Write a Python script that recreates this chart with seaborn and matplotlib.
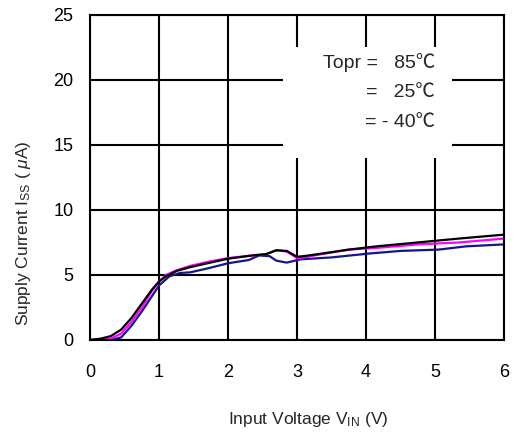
import numpy as np
import pandas as pd
import matplotlib
matplotlib.use("Agg")
import matplotlib.pyplot as plt
from matplotlib.patches import Rectangle
import seaborn as sns

# --- data ---
x_85 = [0, 0.15, 0.3, 0.45, 0.6, 0.75, 0.9, 1.0, 1.1, 1.25, 1.45, 1.7, 2.0, 2.35,
        2.55, 2.7, 2.85, 3.0, 3.1, 3.3, 3.75, 4.15, 4.75, 5.35, 6.0]
y_85 = [0, 0.1, 0.3, 0.8, 1.7, 2.8, 3.9, 4.5, 4.9, 5.3, 5.6, 5.9, 6.25, 6.5,
        6.6, 6.9, 6.85, 6.4, 6.45, 6.6, 6.95, 7.2, 7.5, 7.8, 8.1]

x_25 = [0, 0.3, 0.45, 0.6, 0.75, 0.9, 1.0, 1.1, 1.25, 1.45, 1.7, 2.0, 2.35,
        2.55, 2.7, 2.85, 3.0, 3.1, 3.3, 3.75, 4.2, 4.75, 5.35, 6.0]
y_25 = [0, 0.1, 0.5, 1.4, 2.5, 3.8, 4.5, 5.0, 5.35, 5.7, 6.0, 6.3, 6.5,
        6.6, 6.9, 6.8, 6.3, 6.35, 6.55, 6.95, 7.1, 7.35, 7.5, 7.8]

x_m40 = [0, 0.3, 0.45, 0.6, 0.75, 0.9, 1.0, 1.15, 1.3, 1.45, 1.7, 2.0, 2.3,
         2.45, 2.6, 2.7, 2.85, 3.05, 3.5, 4.05, 4.5, 5.05, 5.45, 6.0]
y_m40 = [0, 0.0, 0.2, 1.1, 2.2, 3.4, 4.2, 4.9, 5.15, 5.2, 5.5, 5.9, 6.15,
         6.5, 6.45, 6.1, 5.95, 6.2, 6.35, 6.65, 6.85, 6.95, 7.2, 7.35]

temps = ["85", "25", "-40"]
legend_lines = ["Topr =   85℃", "=   25℃", "= - 40℃"]
colors = {"85": "black", "25": "#ff00ff", "-40": "#14148c"}

df = pd.concat([
    pd.DataFrame({"vin": x_85, "iss": y_85, "temp": "85"}),
    pd.DataFrame({"vin": x_25, "iss": y_25, "temp": "25"}),
    pd.DataFrame({"vin": x_m40, "iss": y_m40, "temp": "-40"}),
])

sns.set_style("white")
plt.rcParams["font.family"] = ["Liberation Sans", "Noto Sans CJK JP", "DejaVu Sans"]
plt.rcParams["mathtext.fontset"] = "custom"
plt.rcParams["mathtext.rm"] = "Liberation Sans"
plt.rcParams["mathtext.it"] = "Liberation Sans:italic"

fig = plt.figure(figsize=(5.18, 4.37), dpi=100)
ax = fig.add_axes([0.174, 0.222, 0.799, 0.744])

sns.lineplot(data=df, x="vin", y="iss", hue="temp", hue_order=["-40", "25", "85"],
             palette=colors, linewidth=1.6, sort=False, estimator=None,
             legend=False, ax=ax)

ax.set_xlim(0, 6)
ax.set_ylim(0, 25)
ax.set_xticks(range(0, 7))
ax.set_yticks(range(0, 26, 5))
ax.grid(True, color="black", linewidth=1.5)
ax.set_axisbelow(True)
for s in ax.spines.values():
    s.set_color("black")
    s.set_linewidth(1.5)
ax.tick_params(axis="x", length=0, pad=17, labelsize=13, colors="black")
ax.tick_params(axis="y", length=0, pad=12, labelsize=13, colors="black")

ax.set_xlabel(r"Input Voltage V$_{\mathrm{IN}}$ (V)", fontsize=12.5)
ax.set_ylabel(r"Supply Current I$_{\mathrm{SS}}$ ( $\mathit{\mu}$A)", fontsize=12.5)
ax.xaxis.set_label_coords(0.527, -0.215)
ax.yaxis.set_label_coords(-0.138, 0.33)

# white box behind the temperature labels
ax.add_patch(Rectangle((2.8, 14.0), 2.45, 8.5, facecolor="white", edgecolor="none", zorder=1.5))
for line, yy in zip(legend_lines, [21.3, 19.0, 16.7]):
    ax.text(5.0, yy, line, ha="right", va="center", fontsize=14, zorder=3)

fig.savefig("out.png", dpi=100)
